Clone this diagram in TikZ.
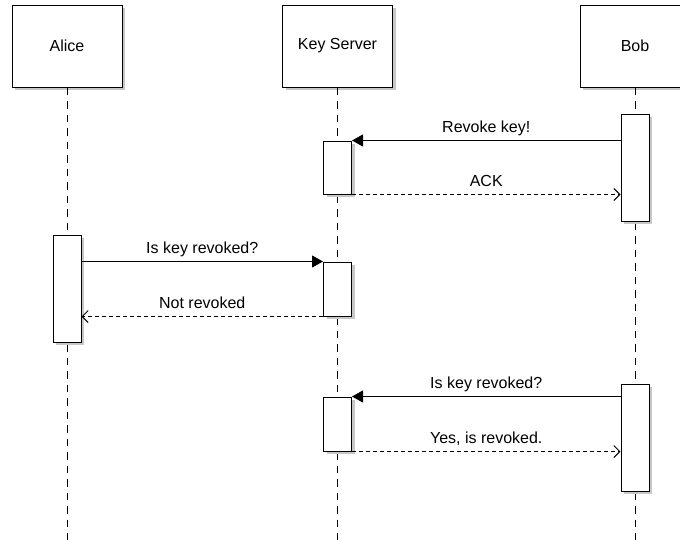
\documentclass[tikz,border=0pt]{standalone}
\usepackage{fontspec}
\setmainfont{Liberation Sans}
\usetikzlibrary{arrows.meta,shadows}
\begin{document}
\begin{tikzpicture}[x=1pt,y=-1pt,
  font=\fontsize{16}{18}\selectfont,
  shad/.style={drop shadow={shadow xshift=3pt,shadow yshift=-3pt,fill=black!22,opacity=1}},
  actor/.style={draw,fill=white,line width=1pt,minimum width=110pt,minimum height=82pt,inner sep=0pt,shad},
  act/.style={draw,fill=white,line width=1pt,minimum width=28pt,inner sep=0pt,shad},
  life/.style={line width=1pt,dash pattern=on 7.5pt off 6pt},
  call/.style={line width=1pt,-{Triangle[length=11pt,width=12pt]}},
  ret/.style={line width=1pt,dash pattern=on 4pt off 3pt,-{Straight Barb[length=6pt,width=12pt,line width=1pt]}},
  lbl/.style={midway,anchor=base,yshift=8.5pt,inner sep=0pt}]
\useasboundingbox (0,0) rectangle (680,539);
% actors
\node[actor] (alice) at (67,46) {Alice};
\node[actor] (ks) at (337.5,46) {Key Server};
\node[actor] (bob) at (635,46) {Bob};
% lifeline ends
\coordinate (aend) at (67,545);
\coordinate (kend) at (337.5,545);
\coordinate (bend) at (635,545);
\draw[life] (alice.south) -- (aend);
\draw[life] (ks.south) -- (kend);
\draw[life] (bob.south) -- (bend);
% activations
\node[act,minimum height=107pt] (b1) at (635,167.5) {};
\node[act,minimum height=53pt] (k1) at (337.5,167.5) {};
\node[act,minimum height=107pt] (a1) at (67,288.5) {};
\node[act,minimum height=54pt] (k2) at (337.5,289) {};
\node[act,minimum height=54pt] (k3) at (337.5,424) {};
\node[act,minimum height=107pt] (b2) at (635,437.5) {};
% messages
\draw[call] (k1.north east -| b1.west) -- (k1.north east) node[lbl] {Revoke key!};
\draw[ret] (k1.south east) -- (k1.south east -| b1.west) node[lbl] {ACK};
\draw[call] (k2.north west -| a1.east) -- (k2.north west) node[lbl] {Is key revoked?};
\draw[ret] (k2.south west) -- (k2.south west -| a1.east) node[lbl] {Not revoked};
\draw[call] (k3.north east -| b2.west) -- (k3.north east) node[lbl] {Is key revoked?};
\draw[ret] (k3.south east) -- (k3.south east -| b2.west) node[lbl] {Yes, is revoked.};
\end{tikzpicture}
\end{document}
